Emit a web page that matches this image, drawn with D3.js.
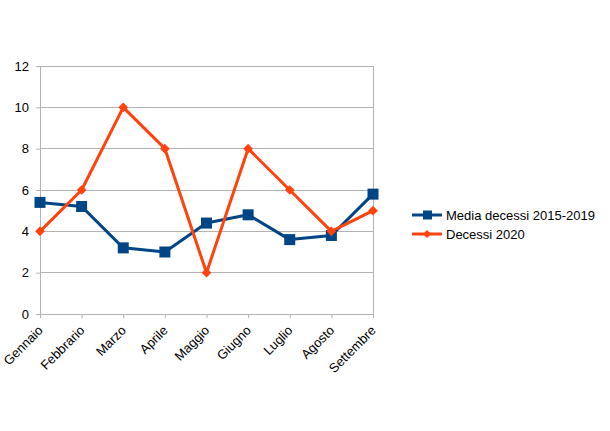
<!DOCTYPE html>
<html><head><meta charset="utf-8">
<script src="https://cdn.jsdelivr.net/npm/d3@7"></script>
<style>body{margin:0;background:#fff}svg{display:block}text{font-family:"Liberation Sans",Arial,sans-serif}</style>
</head><body><svg id="c" width="610" height="431"></svg>
<script>
const months = ["Gennaio","Febbrario","Marzo","Aprile","Maggio","Giugno","Luglio","Agosto","Settembre"];
const media = [5.4,5.2,3.2,3.0,4.4,4.8,3.6,3.8,5.8];
const decessi2020 = [4,6,10,8,2,8,6,4,5];
const yTicks = [0,2,4,6,8,10,12];
const seriesNames = ["Media decessi 2015-2019","Decessi 2020"];
const colors = ["#004586","#ff420e"];

const svg = d3.select("#c");
const L=40,R=373,T=66,B=314;
const x = d3.scalePoint().domain(months).range([L,R]);
const y = d3.scaleLinear().domain([0,12]).range([B,T]);

// gridlines
svg.append("g").selectAll("line").data(yTicks).join("line")
  .attr("x1",L).attr("x2",R).attr("y1",d=>y(d)).attr("y2",d=>y(d))
  .attr("stroke","#b3b3b3").attr("stroke-width",1).attr("shape-rendering","crispEdges");
// right border
svg.append("line").attr("x1",R).attr("x2",R).attr("y1",T).attr("y2",B)
  .attr("stroke","#b3b3b3").attr("shape-rendering","crispEdges");

// y axis
const ya = svg.append("g").attr("transform",`translate(${L},0)`)
  .call(d3.axisLeft(y).tickValues(yTicks).tickSize(4).tickPadding(7));
ya.select(".domain").attr("stroke","#b3b3b3");
ya.selectAll(".tick line").attr("stroke","#b3b3b3");
ya.selectAll("text").attr("font-size",13).attr("fill","#000").attr("font-family","Liberation Sans, Arial, sans-serif");

// x axis
const xa = svg.append("g").attr("transform",`translate(0,${B})`)
  .call(d3.axisBottom(x).tickSize(4).tickPadding(6));
xa.select(".domain").attr("stroke","#b3b3b3");
xa.selectAll(".tick line").attr("stroke","#b3b3b3");
xa.selectAll("text").attr("font-size",13).attr("fill","#000")
  .attr("font-family","Liberation Sans, Arial, sans-serif")
  .attr("text-anchor","end").attr("y",0).attr("dy","0.35em")
  .attr("transform","translate(0,14) rotate(-45)");

const line = d3.line().x((d,i)=>x(months[i])).y(d=>y(d));
[media,decessi2020].forEach((s,k)=>{
  svg.append("path").datum(s).attr("d",line).attr("fill","none")
    .attr("stroke",colors[k]).attr("stroke-width",3).attr("stroke-linejoin","round");
});
// markers
svg.append("g").selectAll("rect").data(media).join("rect")
  .attr("x",(d,i)=>x(months[i])-5.5).attr("y",d=>y(d)-5.5).attr("width",11).attr("height",11)
  .attr("fill",colors[0]);
const diamond = d3.symbol().type(d3.symbolDiamond2).size(60);
svg.append("g").selectAll("path").data(decessi2020).join("path")
  .attr("d",diamond).attr("transform",(d,i)=>`translate(${x(months[i])},${y(d)})`)
  .attr("fill",colors[1]);

// legend
const lg = svg.append("g");
seriesNames.forEach((n,k)=>{
  const yy = 215 + k*19;
  lg.append("line").attr("x1",412).attr("x2",442).attr("y1",yy).attr("y2",yy)
    .attr("stroke",colors[k]).attr("stroke-width",3);
  if(k===0) lg.append("rect").attr("x",423).attr("y",yy-4.5).attr("width",9).attr("height",9).attr("fill",colors[0]);
  else lg.append("path").attr("d",d3.symbol().type(d3.symbolDiamond2).size(40)).attr("transform",`translate(427,${yy})`).attr("fill",colors[1]);
  lg.append("text").attr("x",446).attr("y",yy).attr("dy","0.35em").attr("font-size",13).text(n);
});
</script></body></html>
